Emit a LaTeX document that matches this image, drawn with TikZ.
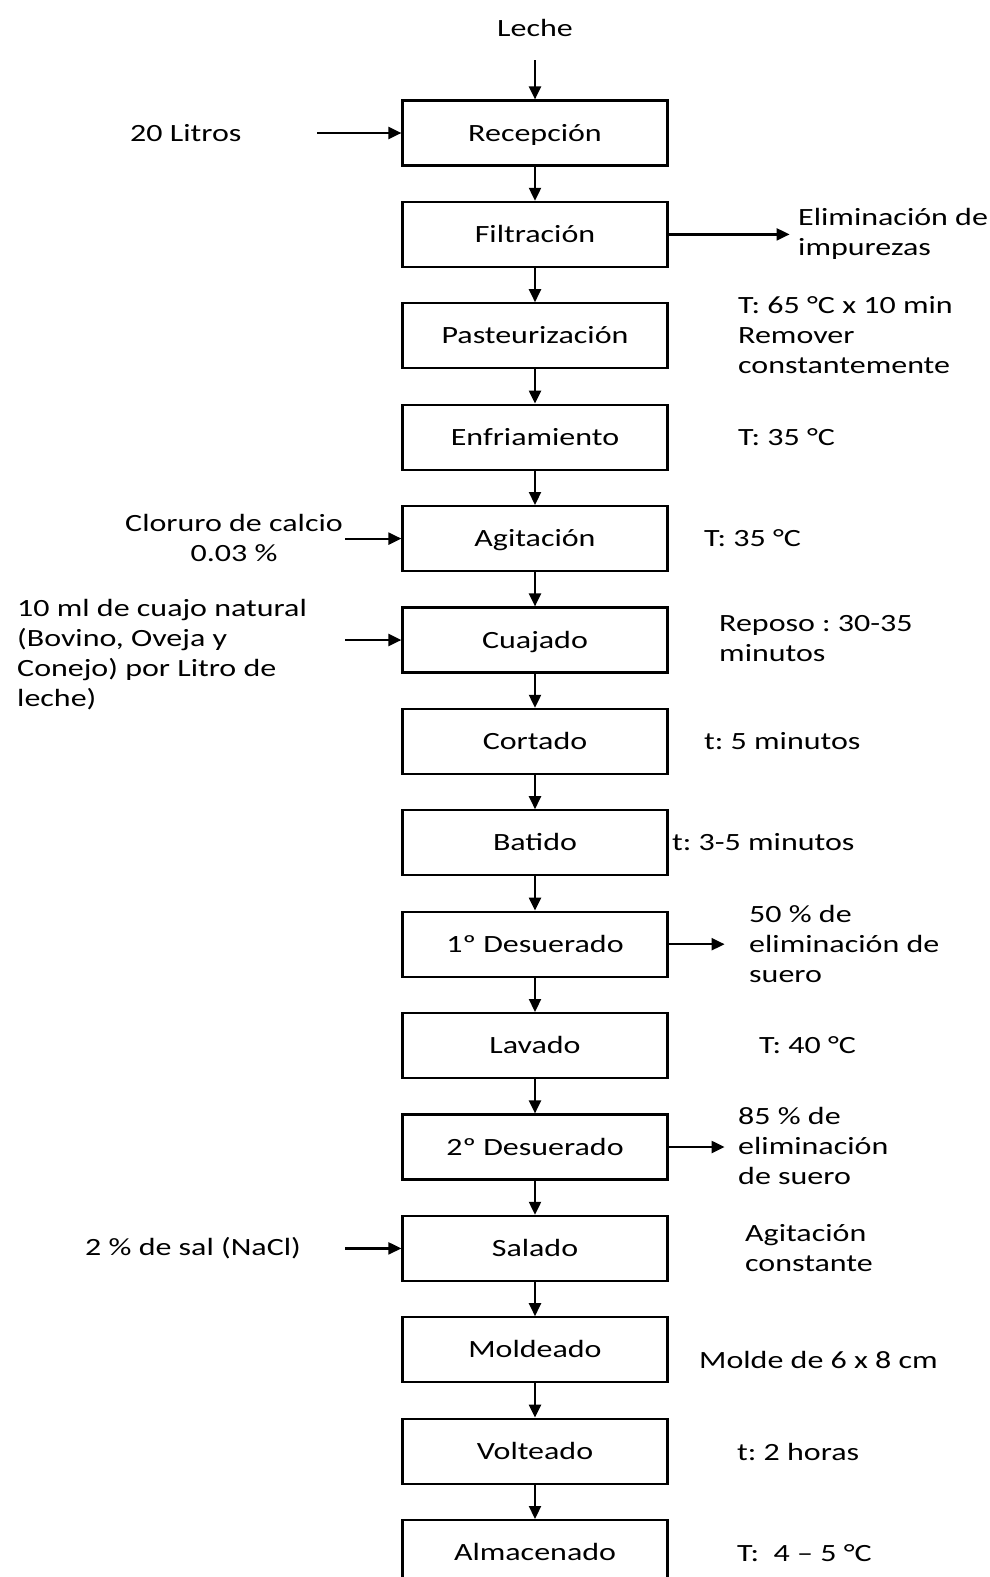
\documentclass[tikz,border=0pt]{standalone}
\usepackage{fontspec}
\setmainfont{Carlito}[FakeStretch=1.29]
\usetikzlibrary{arrows.meta}
\frenchspacing
\begin{document}
\begin{tikzpicture}[x=1pt,y=-1pt,
  every node/.style={font=\fontsize{24.8}{30}\selectfont, inner sep=0pt},
  stepbox/.style={draw, line width=2.2pt, minimum width=265pt, minimum height=65pt, text height=20pt, text depth=4pt},
  note/.style={anchor=west, align=left},
  conn/.style={line width=2.2pt, -{Triangle[length=13pt,width=12pt]}}]
\useasboundingbox (0,0) rectangle (990,1577);
\def\bx{535}
\node (leche) at (\bx,28) {Leche};
\coordinate (lecheA) at (\bx,60);
\foreach \n/\t [count=\k from 0] in {rec/Recepción,fil/Filtración,pas/Pasteurización,enf/Enfriamiento,agi/Agitación,cua/Cuajado,cor/Cortado,bat/Batido,des1/1º Desuerado,lav/Lavado,des2/2º Desuerado,sal/Salado,mol/Moldeado,vol/Volteado,alm/Almacenado}{
  \node[stepbox] (\n) at (\bx,{133+101.4*\k}) {\t};
}
\draw[conn] (lecheA) -- (rec.north);
\foreach \a/\b in {rec/fil,fil/pas,pas/enf,enf/agi,agi/cua,cua/cor,cor/bat,bat/des1,des1/lav,lav/des2,des2/sal,sal/mol,mol/vol,vol/alm}{
  \draw[conn] (\a.south) -- (\b.north);
}
% left inputs
\node[anchor=west] (litros) at (130,133) {20 Litros};
\coordinate (litrosA) at ([xshift=-84pt]rec.west);
\draw[conn] (litrosA) -- (rec.west);
\node[align=center] (clor) at (234,538) {Cloruro de calcio\\0.03 \%};
\coordinate (clorA) at ([xshift=-56pt]agi.west);
\draw[conn] (clorA) -- (agi.west);
\node[note] (cuajo) at (17,655) {10 ml de cuajo natural\\(Bovino, Oveja y\\Conejo) por Litro de\\leche)};
\coordinate (cuajoA) at ([xshift=-56pt]cua.west);
\draw[conn] (cuajoA) -- (cua.west);
\node[note] (nacl) at (85,1248) {2 \% de sal (NaCl)};
\coordinate (naclA) at ([xshift=-56pt]sal.west);
\draw[conn] (naclA) -- (sal.west);
% right outputs and notes
\node[note] (imp) at (798,234) {Eliminación de\\impurezas};
\coordinate (impA) at ([xshift=121pt]fil.east);
\draw[conn] (fil.east) -- (impA);
\node[note] (n1) at (738,335) {T: 65 °C x 10 min\\Remover\\constantemente};
\node[note] (n2) at (738,437) {T: 35 °C};
\node[note] (n3) at (704,538) {T: 35 °C};
\node[note] (n4) at (719,639) {Reposo : 30-35\\minutos};
\node[note] (n5) at (704,741) {t: 5 minutos};
\node[note] (n6) at (672,842) {t: 3-5 minutos};
\node[note] (s1) at (749,944) {50 \% de\\eliminación de\\suero};
\coordinate (s1A) at ([xshift=56pt]des1.east);
\draw[conn] (des1.east) -- (s1A);
\node[note] (n7) at (759,1045) {T: 40 °C};
\node[note] (s2) at (738,1146) {85 \% de\\eliminación\\de suero};
\coordinate (s2A) at ([xshift=56pt]des2.east);
\draw[conn] (des2.east) -- (s2A);
\node[note] (n8) at (745,1248) {Agitación\\constante};
\node[note] (n9) at (699,1360) {Molde de 6 x 8 cm};
\node[note] (n10) at (737,1452) {t: 2 horas};
\node[note] (n11) at (737,1553) {T:\ \ 4 – 5 °C};
\end{tikzpicture}
\end{document}
